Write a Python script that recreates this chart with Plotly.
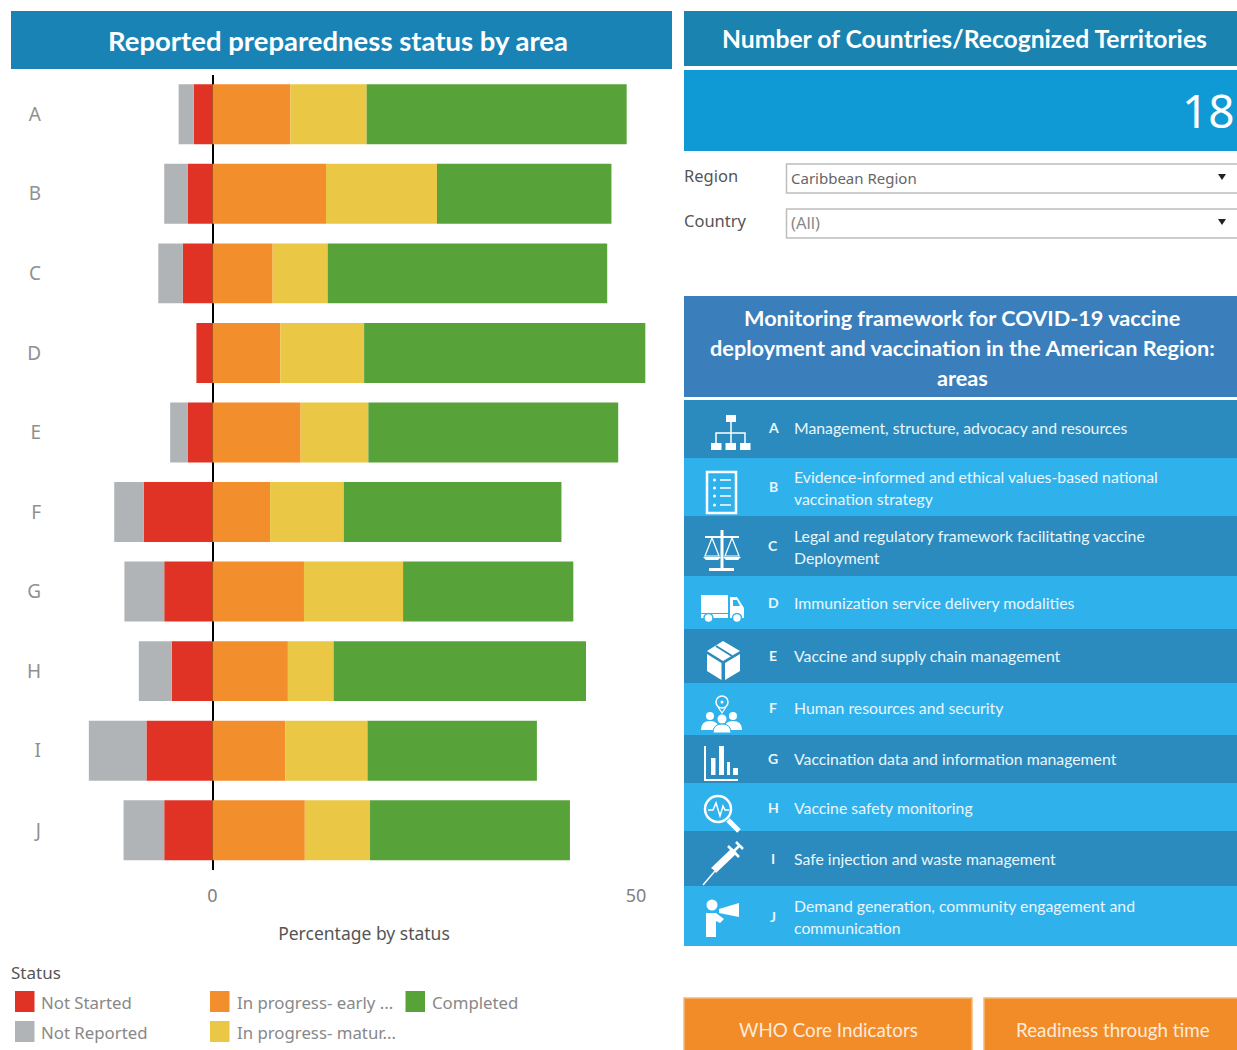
import plotly.graph_objects as go

# ---- data ----
areas = ["A", "B", "C", "D", "E", "F", "G", "H", "I", "J"]
status_names = ["Not Started", "Not Reported", "In progress- early ...", "In progress- matur...", "Completed"]
not_started = [2.2, 2.9, 3.5, 1.9, 2.9, 8.1, 5.7, 4.8, 7.8, 5.7]
not_reported = [1.8, 2.8, 2.9, 0.0, 2.1, 3.5, 4.7, 3.9, 6.8, 4.8]
early = [9.2, 13.4, 7.1, 8.0, 10.4, 6.8, 10.8, 8.9, 8.6, 10.9]
mature = [9.0, 13.1, 6.5, 9.9, 8.0, 8.7, 11.7, 5.4, 9.7, 7.7]
completed = [30.7, 20.6, 33.0, 33.2, 29.5, 25.7, 20.1, 29.8, 20.0, 23.6]
status_values = [not_started, not_reported, early, mature, completed]
status_colors = ["#E03326", "#B1B4B6", "#F28E2B", "#EBC746", "#58A23A"]
axis_ticks = [0, 50]

area_lines = [
    ["Management, structure, advocacy and resources"],
    ["Evidence-informed and ethical values-based national", "vaccination strategy"],
    ["Legal and regulatory framework facilitating vaccine", "Deployment"],
    ["Immunization service delivery modalities"],
    ["Vaccine and supply chain management"],
    ["Human resources and security"],
    ["Vaccination data and information management"],
    ["Vaccine safety monitoring"],
    ["Safe injection and waste management"],
    ["Demand generation, community engagement and", "communication"],
]
framework_title = ["Monitoring framework for COVID-19 vaccine",
                   "deployment and vaccination in the American Region:",
                   "areas"]
country_count = "18"

# ---- layout constants (pixel positions of the dashboard furniture) ----
W, H = 1237, 1050
X0, PX_PER_UNIT = 212.5, 8.47
PLOT_L, PLOT_R, PLOT_T, PLOT_B = 56, 672, 74.5, 870
DARK, LIGHT = "#2B8BBE", "#2FB2EC"
row_edges = [400, 458, 516, 576, 629, 683, 735, 783, 831, 886, 946]
row_text_y = [[428], [477, 499], [536, 558], [603], [656], [708], [759], [808], [859], [906, 928]]
row_letter_y = [428, 487, 546, 603, 656, 708, 759, 808, 859, 917]

BODY = "Noto Sans"
HEAD = "Lato"
shapes, notes = [], []


def rect(x0, y0, x1, y1, fill, line=None, lw=0):
    shapes.append(dict(type="rect", xref="x2", yref="y2", x0=x0, y0=y0, x1=x1, y1=y1, fillcolor=fill,
                       line=dict(color=line or fill, width=lw)))


def circ(cx, cy, r, fill="white", line="white", lw=0):
    shapes.append(dict(type="circle", xref="x2", yref="y2", x0=cx - r, y0=cy - r, x1=cx + r, y1=cy + r,
                       fillcolor=fill, line=dict(color=line, width=lw)))


def path(d, fill="rgba(0,0,0,0)", line="white", lw=2):
    shapes.append(dict(type="path", xref="x2", yref="y2", path=d, fillcolor=fill, line=dict(color=line, width=lw)))


def text(x, y, s, size, color="white", anchor="left", font=HEAD, bold=False):
    notes.append(dict(xref="x2", yref="y2", x=x - 2 if anchor == "left" else x, y=y - 1,
                      text=f"<b>{s}</b>" if bold else s, showarrow=False,
                      xanchor=anchor, yanchor="middle", font=dict(size=size, color=color, family=font)))


# ---- panels ----
rect(11, 11, 672, 69, "#1A83B6")
text(338, 41, "Reported preparedness status by area", 27.5, anchor="center", bold=True)

rect(684, 11, 1237, 66, "#1A83B0")
text(964, 39, "Number of Countries/Recognized Territories", 24.7, anchor="center", bold=True)
rect(684, 70, 1237, 151, "#0F9AD6")
text(1182, 111, country_count, 46, font=BODY)

for label, value, y0, y1, vc, lc, tri, vs in [("Region", "Caribbean Region", 164, 193, "#666666", "#555555", 177, 15),
                                              ("Country", "(All)", 209, 238, "#888888", "#555555", 222, 16.5)]:
    text(684, (y0 + y1) / 2 - 2, label, 16.5, lc, font=BODY)
    rect(786.5, y0, 1240, y1, "white", "#BDBDBD", 1.5)
    text(791, (y0 + y1) / 2, value, vs, vc, font=BODY)
    path(f"M1218,{tri - 3} L1226,{tri - 3} L1222,{tri + 3} Z", fill="#222222", line="#222222", lw=0)

rect(684, 296, 1237, 397, "#3A7EBB")
for i, line in enumerate(framework_title):
    text(962, 319 + 30 * i, line, 21.7, anchor="center", bold=True)

for i, lines in enumerate(area_lines):
    rect(684, row_edges[i], 1237, row_edges[i + 1], DARK if i % 2 == 0 else LIGHT)
    text(773, row_letter_y[i], areas[i], 14, "#EAF6FC", anchor="center", bold=True)
    for y, line in zip(row_text_y[i], lines):
        text(794, y, line, 15.8, "#EAF6FC")

for x0, x1, cx, s in [(684, 972, 828, "WHO Core Indicators"), (984, 1240, 1113, "Readiness through time")]:
    rect(x0, 998, x1, 1055, "#F28C28", "#F6B877", 1.5)
    text(cx, 1030, s, 18.8, "#FCEBDD", anchor="center")

# ---- icons ----
# A organisation chart
rect(726, 415, 736, 422, "white")
for bx in (711, 725.5, 740):
    rect(bx, 443, bx + 10.5, 450, "white")
path("M731,422 L731,443 M716,443 L716,433 L745,433 L745,443", lw=1.5)
# B checklist
rect(707, 472, 736, 513, "rgba(0,0,0,0)", "white", 2.5)
for ly in (480, 488, 496, 505):
    circ(714.5, ly, 1.5)
    path(f"M720,{ly} L731,{ly}", lw=1.5)
# C scales
path("M722,530 L722,569", lw=3)
path("M705,537 L739,537", lw=2)
rect(709, 568, 734, 571, "white")
path("M712,538 L705,556 L719,556 Z M732,538 L725,556 L739,556 Z", lw=1.2)
path("M703,557 L721,557 L718,560 L706,560 Z M723,557 L741,557 L738,560 L726,560 Z", fill="white", lw=0)
# D truck
rect(701, 595, 728, 613, "white")
rect(701, 614, 728, 618, "white")
path("M730,597 L737,597 L744,608 L744,618 L730,618 Z", fill="white", lw=0)
path("M733,600 L737,600 L740,606 L733,606 Z", fill=LIGHT, lw=0)
circ(708.5, 618, 4.5, "white", LIGHT, 1.5)
circ(737, 618, 4.5, "white", LIGHT, 1.5)
# E parcel
path("M723,641 L740,651 L723,661 L707,651 Z", fill="white", lw=0)
path("M707,654 L721.5,663 L721.5,680 L707,671 Z", fill="white", lw=0)
path("M740,654 L725,663 L725,680 L740,671 Z", fill="white", lw=0)
path("M716,646 L732,656", line=DARK, lw=2)
# F people and pin
circ(722, 702, 6, "rgba(0,0,0,0)", "white", 1.5)
circ(722, 702, 1.5)
path("M718,707 L722,713 L726,707", lw=1.2)
for px_, py_, sc in [(710, 716, 4), (733, 716, 4), (722, 719, 4.5)]:
    circ(px_, py_, sc)
    path(f"M{px_ - 9},{py_ + 14} Q{px_ - 9},{py_ + 5} {px_},{py_ + 5} Q{px_ + 9},{py_ + 5} {px_ + 9},{py_ + 14} Z",
         fill="white", line=LIGHT if px_ == 722 else "white", lw=1 if px_ == 722 else 0)
# G bar chart
path("M705,746 L705,780 L738,780", lw=2)
for bx0, bx1, by in [(711, 715.5, 758), (719, 724, 746), (727, 730, 762), (733, 738, 768)]:
    rect(bx0, by, bx1, 775, "white")
# H magnifier with pulse
circ(718, 809, 13, "rgba(0,0,0,0)", "white", 2.5)
path("M708,810 L713,810 L716,803 L720,816 L723,806 L725,810 L729,810", lw=1.5)
path("M728,820 L739,831", lw=5)
# I syringe
path("M703,885 L715,871", lw=1.5)
path("M715,871 L711,868 L732,848 L737,853 L716,873 Z", fill="white", lw=0)
path("M733,852 L740,845 M736,842 L743,849 M728,846 L739,857", lw=2.5)
# J person with megaphone
circ(712, 905, 5.5)
path("M706,913 L716,913 L724,919 L720,923 L716,921 L716,937 L706,937 Z", fill="white", lw=0)
path("M719,909 L739,903 L739,917 L719,913 Z", fill="white", lw=0)

# ---- legend drawn like the reference ----
text(11, 973, "Status", 17, "#555555", font=BODY)
for name, color, sx, sy in zip(status_names, status_colors, [15, 15, 210, 210, 405.5], [991, 1021, 991, 1021, 991]):
    rect(sx, sy, sx + 19.5, sy + 21, color)
    text(sx + 27 if sx == 210 else sx + 26, sy + 12, name, 16.8, "#888888", font=BODY)

# ---- chart ----
fig = go.Figure()
for name, values, color in zip(status_names, status_values, status_colors):
    negative = name in status_names[:2]
    fig.add_trace(go.Bar(y=areas, x=[-v if negative else v for v in values], name=name,
                         orientation="h", marker=dict(color=color, line_width=0), showlegend=False))

fig.update_layout(
    width=W, height=H, margin=dict(l=0, r=0, t=0, b=0), autosize=False,
    paper_bgcolor="white", plot_bgcolor="rgba(0,0,0,0)",
    barmode="relative", bargap=0.246, showlegend=False,
    font=dict(family=BODY, color="#888888"),
    xaxis=dict(domain=[PLOT_L / W, PLOT_R / W],
               range=[(PLOT_L - X0) / PX_PER_UNIT, (PLOT_R - X0) / PX_PER_UNIT],
               tickvals=axis_ticks, ticktext=[str(t) for t in axis_ticks], ticks="",
               ticklabelstandoff=13, tickfont=dict(size=18, color="#808080"),
               showgrid=False, zeroline=True, zerolinecolor="black", zerolinewidth=2, showline=False,
               title=dict(text="Percentage by status", font=dict(size=17.5, color="#555555"), standoff=21)),
    yaxis=dict(domain=[1 - PLOT_B / H, 1 - PLOT_T / H], autorange=False, range=[9.5, -0.5],
               categoryorder="array", categoryarray=areas, ticks="",
               ticklabelstandoff=14, tickfont=dict(size=19, color="#909090"), showgrid=False, zeroline=False),
    xaxis2=dict(domain=[0, 1], range=[0, W], visible=False, anchor="y2", fixedrange=True),
    yaxis2=dict(domain=[0, 1], range=[H, 0], visible=False, anchor="x2", fixedrange=True),
    shapes=shapes, annotations=notes,
)

fig.write_html("out.html", config=dict(displayModeBar=False), post_script="document.body.style.margin='0';")
